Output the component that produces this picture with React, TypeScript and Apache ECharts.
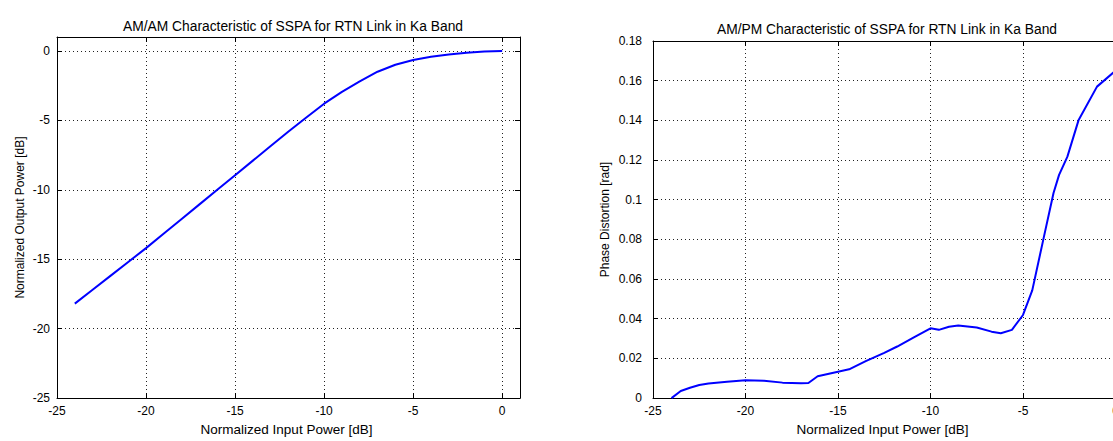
import React, { useEffect, useRef } from "react";
import * as echarts from "echarts";

// AM/AM characteristic (input dB -> output dB)
const amamInput = [-24, -23, -22, -21, -20, -19, -18, -17, -16, -15, -14, -13, -12, -11, -10, -9, -8, -7, -6, -5, -4, -3, -2, -1, 0];
const amamOutput = [-18.2, -17.2, -16.2, -15.2, -14.2, -13.15, -12.1, -11.05, -10.0, -8.95, -7.9, -6.85, -5.8, -4.8, -3.8, -2.95, -2.2, -1.5, -1.0, -0.65, -0.42, -0.26, -0.13, -0.04, 0];

// AM/PM characteristic (input dB -> phase rad)
const ampmInput = [-24, -23.5, -23, -22.5, -22, -21, -20, -19, -18, -17, -16.6, -16.1, -15, -14.4, -13.5, -12.5, -11.8, -10.9, -10, -9.55, -9, -8.5, -7.5, -6.7, -6.2, -5.6, -5, -4.5, -3.9, -3.35, -3.05, -2.6, -2, -1, 0];
const ampmPhase = [0, 0.0036, 0.0052, 0.0066, 0.0074, 0.0082, 0.009, 0.0087, 0.0078, 0.0075, 0.0076, 0.011, 0.0133, 0.0145, 0.0186, 0.0228, 0.026, 0.0306, 0.0352, 0.0344, 0.036, 0.0366, 0.0356, 0.0335, 0.0327, 0.0344, 0.0419, 0.0543, 0.08, 0.1034, 0.1125, 0.1217, 0.14, 0.157, 0.165];

const titleLeft = "AM/AM Characteristic of SSPA for RTN Link in Ka Band";
const titleRight = "AM/PM Characteristic of SSPA for RTN Link in Ka Band";
const xName = "Normalized Input Power [dB]";
const yNameLeft = "Normalized Output Power [dB]";
const yNameRight = "Phase Distortion [rad]";

const FONT = "'Liberation Sans', Arial, Helvetica, sans-serif";

export default function App() {
  const ref = useRef<HTMLDivElement>(null);
  useEffect(() => {
    if (!ref.current) return;
    const chart = echarts.init(ref.current, undefined, { renderer: "svg" });
    const lineCol = "#000";
    const split = { show: true, lineStyle: { type: [1, 3], color: "#222", width: 1 } };
    const tick = { show: true, inside: true, length: 5, lineStyle: { color: lineCol } };
    const axisLine = { show: true, onZero: false, lineStyle: { color: lineCol, width: 1 } };
    const labelStyle = { color: "#000", fontSize: 12, fontFamily: FONT };
    const hidePos = (v: number) => (v > 0 ? "" : String(v));
    const fmtRad = (v: number) => String(+v.toFixed(2));

    const mkX = (gi: number, main: boolean, shift: number) => ({
      type: "value",
      gridIndex: gi,
      position: main ? "bottom" : "top",
      min: -25,
      max: 1,
      interval: 5,
      axisLine,
      axisTick: tick,
      splitLine: main ? split : { show: false },
      axisLabel: main ? { ...labelStyle, margin: 7, formatter: hidePos } : { show: false },
      name: main ? xName : "",
      nameLocation: "middle",
      nameGap: 22,
      nameTextStyle: { color: "#000", fontSize: 13.5, fontFamily: FONT, padding: [0, shift, 0, 0] },
    });

    const option = {
      animation: false,
      backgroundColor: "#fff",
      title: [
        { text: titleLeft, left: 288, top: 14, textAlign: "center", textStyle: { color: "#000", fontSize: 13.8, fontWeight: "normal", fontFamily: FONT } },
        { text: titleRight, left: 882, top: 17, textAlign: "center", textStyle: { color: "#000", fontSize: 13.8, fontWeight: "normal", fontFamily: FONT } },
      ],
      grid: [
        { left: 57, top: 37, width: 463, height: 366 },
        { left: 653, top: 41, width: 481, height: 362 },
      ],
      xAxis: [mkX(0, true, 4), mkX(0, false, 0), mkX(1, true, 22), mkX(1, false, 0)],
      yAxis: [
        {
          type: "value", gridIndex: 0, position: "left", min: -25, max: 1, interval: 5,
          axisLine, axisTick: tick, splitLine: split,
          axisLabel: { ...labelStyle, margin: 7, formatter: hidePos },
          name: yNameLeft, nameLocation: "middle", nameGap: 31,
          nameTextStyle: { color: "#000", fontSize: 12, fontFamily: FONT },
        },
        {
          type: "value", gridIndex: 0, position: "right", min: -25, max: 1, interval: 5,
          axisLine, axisTick: tick, splitLine: { show: false }, axisLabel: { show: false },
        },
        {
          type: "value", gridIndex: 1, position: "left", min: 0, max: 0.18, interval: 0.02,
          axisLine, axisTick: tick, splitLine: split,
          axisLabel: { ...labelStyle, margin: 11, formatter: fmtRad },
          name: yNameRight, nameLocation: "middle", nameGap: 42,
          nameTextStyle: { color: "#000", fontSize: 12, fontFamily: FONT },
        },
        {
          type: "value", gridIndex: 1, position: "right", min: 0, max: 0.18, interval: 0.02,
          axisLine, axisTick: tick, splitLine: { show: false }, axisLabel: { show: false },
        },
      ],
      series: [
        {
          type: "line", xAxisIndex: 0, yAxisIndex: 0, showSymbol: false, symbol: "none",
          lineStyle: { color: "#0000ff", width: 2 },
          data: amamInput.map((x, i) => [x, amamOutput[i]]),
        },
        {
          type: "line", xAxisIndex: 2, yAxisIndex: 2, showSymbol: false, symbol: "none",
          lineStyle: { color: "#0000ff", width: 2 },
          data: ampmInput.map((x, i) => [x, ampmPhase[i]]),
        },
      ],
    };
    chart.setOption(option as any);
    return () => chart.dispose();
  }, []);
  return (
    <div style={{ position: "fixed", left: 0, top: 0, width: 1113, height: 441, overflow: "hidden", background: "#fff" }}>
      <div ref={ref} style={{ width: 1180, height: 441 }} />
    </div>
  );
}
